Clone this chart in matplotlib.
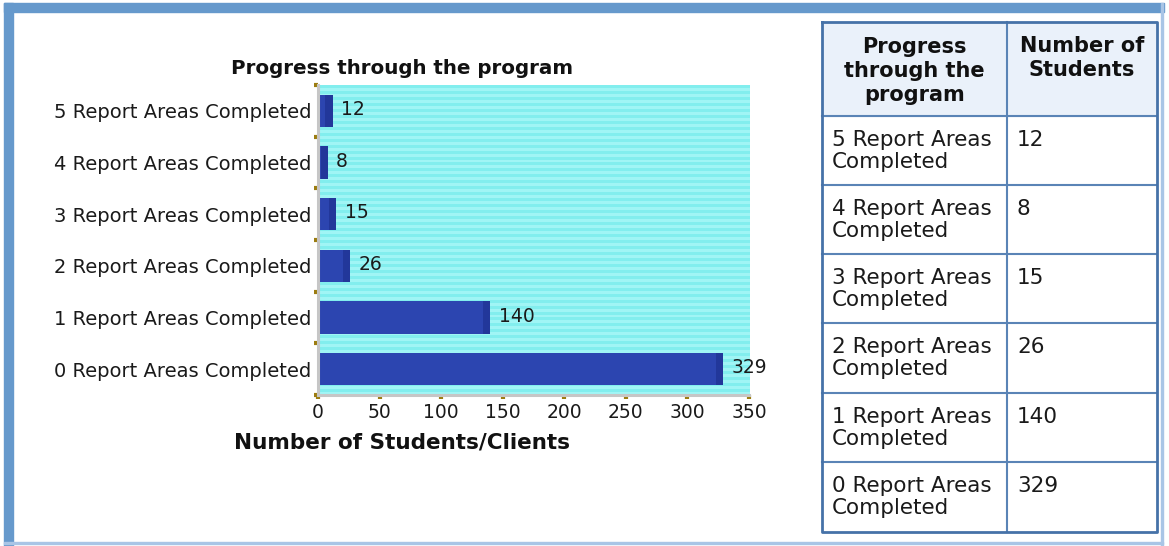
import numpy as np
import matplotlib
matplotlib.use('Agg')
import matplotlib.pyplot as plt
from matplotlib.patches import Rectangle
from matplotlib.colors import ListedColormap

# data (bottom to top, as in the chart)
categories = ['0 Report Areas Completed', '1 Report Areas Completed',
              '2 Report Areas Completed', '3 Report Areas Completed',
              '4 Report Areas Completed', '5 Report Areas Completed']
students = [329, 140, 26, 15, 8, 12]
xticks = [0, 50, 100, 150, 200, 250, 300, 350]
chart_title = 'Progress through the program'
x_title = 'Number of Students/Clients'
table_headers = ['Progress\nthrough the\nprogram', 'Number of\nStudents']

W, H = 1169, 546
fig = plt.figure(figsize=(W / 100, H / 100), dpi=100)

def box(x0, y0, x1, y1):
    return [x0 / W, 1 - y1 / H, (x1 - x0) / W, (y1 - y0) / H]

# background layer in pixel coords (frame + table)
bg = fig.add_axes([0, 0, 1, 1])
bg.set_xlim(0, W)
bg.set_ylim(H, 0)
bg.axis('off')

frame_blue = '#6699cc'
bg.add_patch(Rectangle((4, 3), 1160, 9, color=frame_blue))
bg.add_patch(Rectangle((4, 3), 9, 543, color=frame_blue))
bg.add_patch(Rectangle((1161, 3), 2, 543, color='#a9c5e6'))
bg.add_patch(Rectangle((4, 542), 1159, 2, color='#a9c5e6'))

# table
tx0, tx1, tx2 = 822, 1007, 1157
rows = [22, 116, 185, 254, 323, 393, 462, 532]
line_c = '#5a84b6'
bg.add_patch(Rectangle((tx0, rows[0]), tx2 - tx0, rows[1] - rows[0], color='#eaf1fa', zorder=1))
for yy in rows[1:-1]:
    bg.plot([tx0, tx2], [yy, yy], color=line_c, lw=1.5, zorder=2)
bg.plot([tx1, tx1], [rows[0], rows[-1]], color=line_c, lw=1.5, zorder=2)
bg.plot([tx0, tx2, tx2, tx0, tx0], [rows[0], rows[0], rows[-1], rows[-1], rows[0]],
        color='#4672a8', lw=2.0, zorder=3)

bg.text((tx0 + tx1) / 2, 37, table_headers[0], ha='center', va='top', fontsize=15,
        fontweight='bold', color='#111111', linespacing=1.25)
bg.text((tx1 + tx2) / 2, 36, table_headers[1], ha='center', va='top', fontsize=15,
        fontweight='bold', color='#111111', linespacing=1.25)

for i, (cat, val) in enumerate(zip(categories[::-1], students[::-1])):
    top = rows[i + 1]
    first, last = cat.rsplit(' ', 1)
    bg.text(tx0 + 10, top + 14, first + '\n' + last, ha='left', va='top',
            fontsize=15.5, color='#1a1a1a', linespacing=1.12)
    bg.text(tx1 + 10, top + 14, str(val), ha='left', va='top',
            fontsize=15.5, color='#1a1a1a')

# bar chart
ax = fig.add_axes(box(318, 85, 749, 395))
ax.set_zorder(2)
ypos = np.arange(len(categories))

stripes = (np.arange(104) % 2).reshape(-1, 1)
ax.imshow(stripes, cmap=ListedColormap(['#82eeee', '#a0f5f5']), aspect='auto',
          extent=(0, 350, -0.5, 5.5), interpolation='nearest', zorder=0)

ax.barh(ypos, students, height=0.62, color='#2c45b0', zorder=2)
cap = 6
ax.barh(ypos, [min(cap, v * 0.7) for v in students],
        left=[v - min(cap, v * 0.7) for v in students],
        height=0.62, color='#22379a', zorder=2)

for y, v in zip(ypos, students):
    ax.annotate(str(v), (v, y), xytext=(6, 1), textcoords='offset points',
                va='center', ha='left', fontsize=13.5, color='#1a1a1a')

ax.set_xlim(0, 350)
ax.set_ylim(-0.5, 5.5)
ax.set_xticks(xticks)
ax.set_yticks(ypos)
ax.set_yticklabels(categories)
ax.set_yticks(np.arange(-0.5, 6, 1), minor=True)

gold = '#9c7c10'
ax.tick_params(axis='y', which='major', length=0, pad=5, labelsize=14, labelcolor='#1a1a1a')
ax.tick_params(axis='y', which='minor', length=3, width=3, color=gold, direction='out')
ax.tick_params(axis='x', which='major', length=3, width=3, color=gold, pad=3,
               labelsize=13.5, labelcolor='#1a1a1a')

for s in ['top', 'right']:
    ax.spines[s].set_visible(False)
for s in ['left', 'bottom']:
    ax.spines[s].set_color('#c6c6c6')
    ax.spines[s].set_linewidth(2.2)

fig.text(402 / W, 1 - 69 / H, chart_title, ha='center', va='center',
         fontsize=14.3, fontweight='bold', color='#111111')
fig.text(402 / W, 1 - 443 / H, x_title, ha='center', va='center',
         fontsize=15.5, fontweight='bold', color='#111111')

fig.savefig('out.png', dpi=100)
